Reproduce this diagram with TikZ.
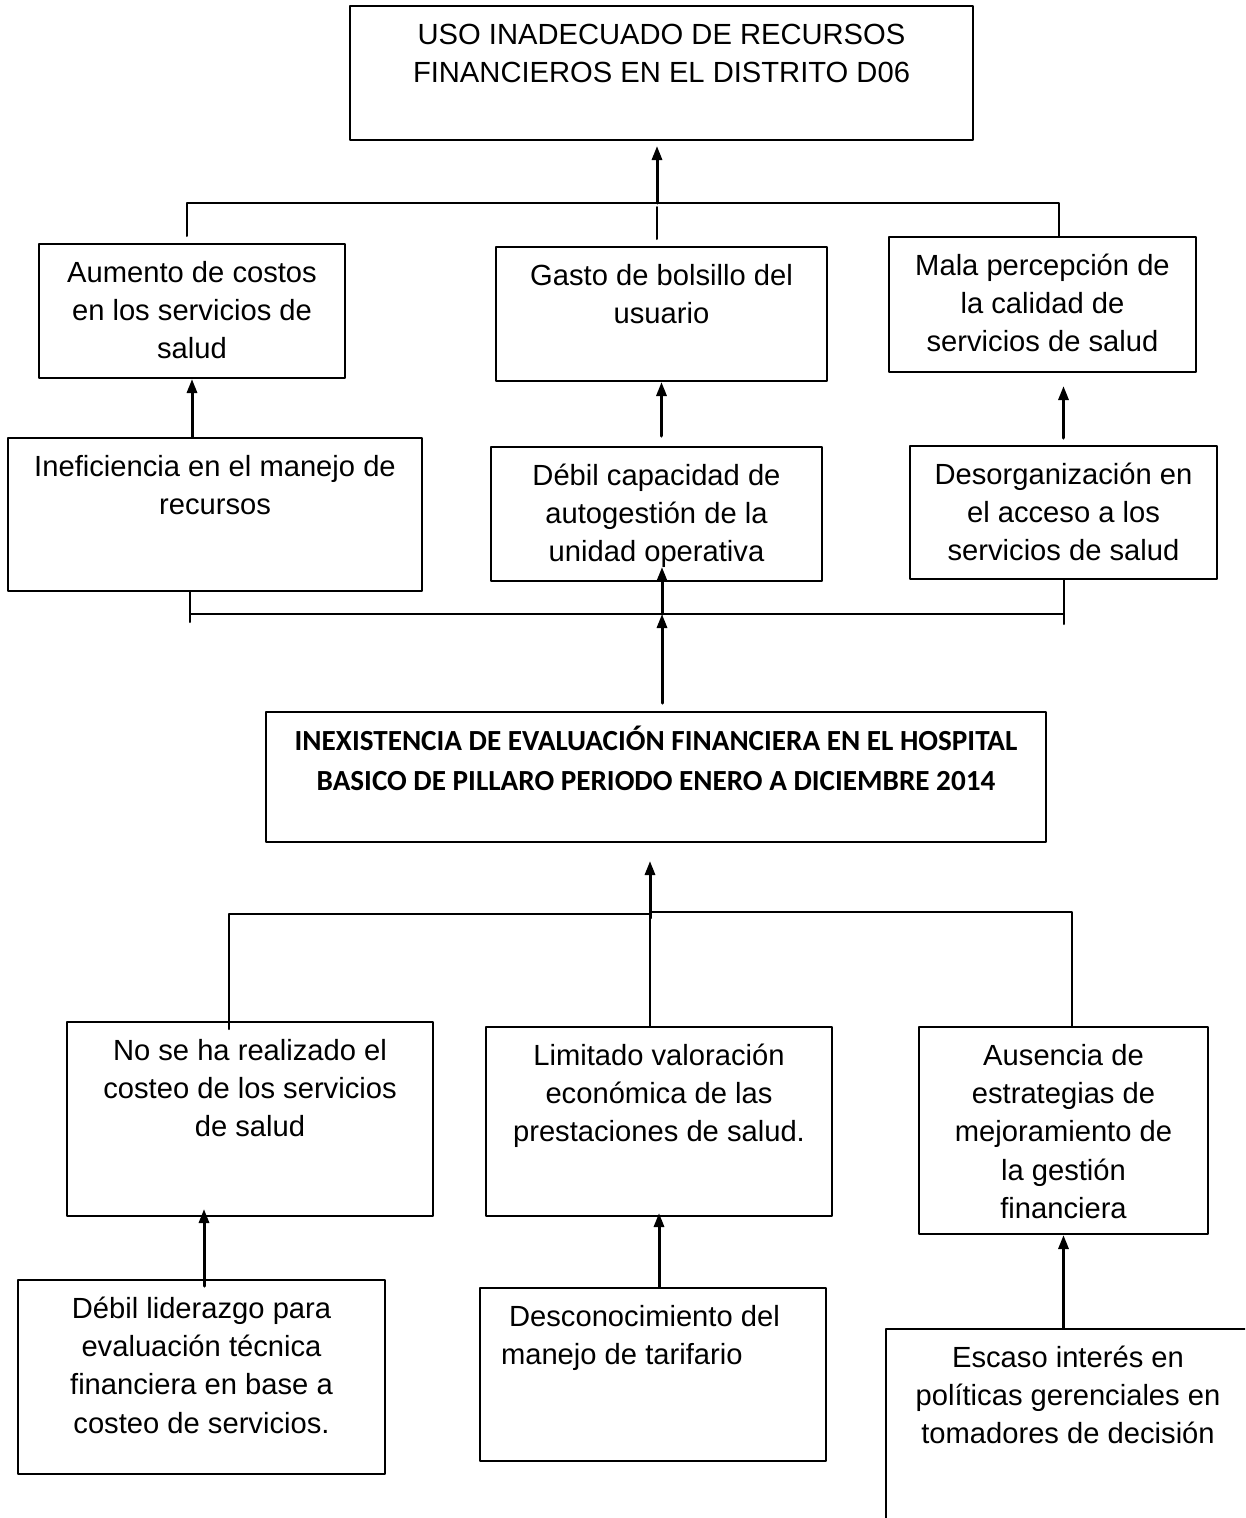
\documentclass[tikz,border=0pt]{standalone}
\usepackage{fontspec}
\setmainfont{Liberation Sans}
\newfontfamily\calibri{Carlito}
\usetikzlibrary{arrows}
\usetikzlibrary{arrows.meta}
\usetikzlibrary{positioning}
\newlength{\pxu}
\setlength{\pxu}{0.02cm}
\newcommand{\caja}[4][\centering]{\parbox[c][#3\pxu][t]{#2\pxu}{#1\rule{0pt}{38\pxu}#4}}

\begin{document}
\begin{tikzpicture}[line cap=round,line join=round,>={Triangle[length=0.28cm,width=0.2cm]},x=0.02cm,y=-0.02cm,
caja/.style={draw=black,line width=0.04cm,inner sep=0pt,font=\fontsize{16.6}{21.9}\selectfont},
linea/.style={line width=0.04cm},
flecha/.style={->,line width=0.06cm}]
\useasboundingbox (0,0) rectangle (1245,1518);
\fill[white] (0,0) rectangle (1245,1518);
\clip (0,0) rectangle (1245,1518);
\node[caja] (T) at (661.5,73) {\caja{623}{134}{USO INADECUADO DE RECURSOS\\FINANCIEROS EN EL DISTRITO D06}};
\node[caja] (A) at (192,311) {\caja{306}{134}{Aumento de costos\\en los servicios de\\salud}};
\node[caja] (B) at (661.5,314) {\caja{331}{134}{Gasto de bolsillo del\\usuario}};
\node[caja] (C) at (1042.5,304.5) {\caja{307}{135}{Mala percepción de\\la calidad de\\servicios de salud}};
\node[caja] (D) at (215,514.5) {\caja{414}{153}{Ineficiencia en el manejo de\\recursos}};
\node[caja] (E) at (656.5,514) {\caja{331}{134}{Débil capacidad de\\autogestión de la\\unidad operativa}};
\node[caja] (F) at (1063.5,512.5) {\caja{307}{133}{Desorganización en\\el acceso a los\\servicios de salud}};
\node[caja,font=\calibri\bfseries\fontsize{16.6}{23}\selectfont] (G) at (656,777) {\caja{780}{130}{INEXISTENCIA DE EVALUACIÓN FINANCIERA EN EL HOSPITAL\\BASICO DE PILLARO PERIODO ENERO A DICIEMBRE 2014}};
\node[caja] (H) at (250,1119) {\caja{366}{194}{No se ha realizado el\\costeo de los servicios\\de salud}};
\node[caja] (I) at (659,1121.5) {\caja{346}{189}{Limitado valoración\\económica de las\\prestaciones de salud.}};
\node[caja] (J) at (1063.5,1130.5) {\caja{289}{207}{Ausencia de\\estrategias de\\mejoramiento de\\la gestión\\financiera}};
\node[caja] (K) at (201.5,1377) {\caja{367}{194}{Débil liderazgo para\\evaluación técnica\\financiera en base a\\costeo de servicios.}};
\node[caja] (L) at (653,1374.5) {\caja[\raggedright\leftskip=21\pxu]{346}{173}{~Desconocimiento del\\manejo de tarifario}};
\node[caja] (M) at (1068,1434.5) {\caja{364}{211}{Escaso interés en\\políticas gerenciales en\\tomadores de decisión}};
\coordinate (jS) at (657,203);
\coordinate (jI) at (662,614);
\coordinate (jC) at (650,912);
\draw[linea] ([xshift=-5\pxu,yshift=7\pxu]A.north) |- (jS);
\draw[linea] (jS) -| ([xshift=16.5\pxu]C.north);
\draw[linea] ([xshift=-4.5\pxu,yshift=7\pxu]B.north) -- ([yshift=-4\pxu]jS);
\draw[flecha,shorten >=5\pxu] (jS) -- (jS |- T.south);
\draw[flecha] (D.north -| A.south) -- (A.south);
\draw[flecha] ([yshift=10\pxu]E.north -| B.south) -- (B.south);
\draw[flecha,shorten >=13\pxu] ([yshift=7\pxu]F.north) -- (F.north |- C.south);
\draw[linea] ([xshift=-25\pxu]D.south) -- ++(0,30);
\draw[linea] (F.south) -- ++(0,44);
\draw[linea] ([xshift=-25\pxu]D.south |- jI) -- (F.south |- jI);
\draw[flecha,shorten >=-15\pxu] (jI) -- (jI |- E.south);
\draw[flecha,shorten <=8\pxu] (G.north -| jI) -- (jI);
\draw[flecha,shorten <=-6\pxu,shorten >=18\pxu] (jC) -- (jC |- G.south);
\draw[linea] ([xshift=-21\pxu,yshift=-8\pxu]H.north) |- ([yshift=-2\pxu]jC);
\draw[linea] (I.north -| jC) -- (jC);
\draw[linea] (jC) -| ([xshift=8.5\pxu]J.north);
\draw[flecha,shorten <=-7\pxu,shorten >=-8\pxu] ([xshift=2.5\pxu]K.north) -- ([xshift=2.5\pxu]K.north |- H.south);
\draw[flecha,shorten >=-4\pxu] (L.north -| I.south) -- (I.south);
\draw[flecha] (M.north -| J.south) -- (J.south);
\end{tikzpicture}
\end{document}
